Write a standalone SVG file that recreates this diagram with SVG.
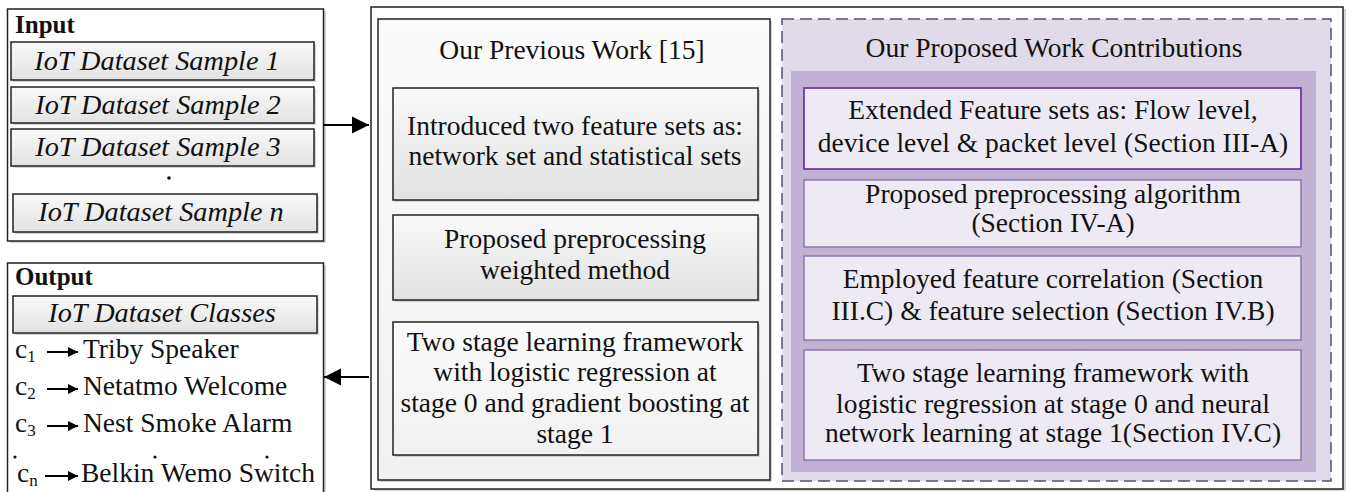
<svg xmlns="http://www.w3.org/2000/svg" width="1348" height="492" viewBox="0 0 1348 492">
<defs>
<linearGradient id="gGray" x1="0" y1="0" x2="0" y2="1">
<stop offset="0" stop-color="#f9f9f9"/>
<stop offset="1" stop-color="#e2e2e2"/>
</linearGradient>
<linearGradient id="gLight" x1="0" y1="0" x2="0" y2="1">
<stop offset="0" stop-color="#fbfbfb"/>
<stop offset="1" stop-color="#f1f1f1"/>
</linearGradient>
<marker id="ah" viewBox="0 0 10 10" refX="10" refY="5" markerWidth="12" markerHeight="10" markerUnits="userSpaceOnUse" orient="auto">
<path d="M0,0 L10,5 L0,10 z" fill="#000"/>
</marker>
<marker id="ahBig" viewBox="0 0 10 10" refX="10" refY="5" markerWidth="17" markerHeight="19" markerUnits="userSpaceOnUse" orient="auto">
<path d="M0,0 L10,5 L0,10 z" fill="#000"/>
</marker>
</defs>
<style>
.t{font-family:"Liberation Serif","Times New Roman",serif;font-size:27.5px;fill:#111;}
.c{text-anchor:middle;}
.it{font-style:italic;font-size:28.3px;}
.hd{font-weight:bold;font-size:25px;}
.sub{font-size:17px;}
.box{stroke:#222;stroke-width:1.5;}
.shadow{fill:#bbb;opacity:0.6;}
.pbox{fill:#eeeaf3;stroke:#8a78ad;stroke-width:1.5;}
</style>
<rect width="1348" height="492" fill="#fff"/>

<g id="input">
<rect class="shadow" x="10" y="11" width="316" height="232"/>
<rect class="box" x="7.5" y="9" width="316" height="232" fill="#fff"/>
<text class="t hd" x="15" y="33">Input</text>
<rect class="shadow" x="13" y="44" width="303" height="38"/>
<rect class="box" x="11" y="42" width="303" height="38" fill="url(#gGray)"/>
<text class="t it c" x="157" y="70">IoT Dataset Sample 1</text>
<rect class="shadow" x="13" y="89" width="303" height="36"/>
<rect class="box" x="11" y="87" width="303" height="36" fill="url(#gGray)"/>
<text class="t it c" x="158" y="114">IoT Dataset Sample 2</text>
<rect class="shadow" x="13" y="131" width="303" height="37"/>
<rect class="box" x="11" y="129" width="303" height="37" fill="url(#gGray)"/>
<text class="t it c" x="158" y="156">IoT Dataset Sample 3</text>
<circle cx="169" cy="178" r="1.8" fill="#111"/>
<rect class="shadow" x="15" y="196" width="304" height="38"/>
<rect class="box" x="13" y="194" width="304" height="38" fill="url(#gGray)"/>
<text class="t it c" x="161" y="221">IoT Dataset Sample n</text>
</g>

<g id="output">
<rect class="shadow" x="10" y="265" width="316" height="240"/>
<rect class="box" x="7.5" y="263" width="316" height="240" fill="#fff"/>
<text class="t hd" x="15" y="285">Output</text>
<rect class="shadow" x="15" y="298" width="304" height="37"/>
<rect class="box" x="13" y="296" width="304" height="37" fill="url(#gGray)"/>
<text class="t it c" x="162" y="322">IoT Dataset Classes</text>
<text class="t" x="15" y="358">c<tspan class="sub" dy="4">1</tspan></text>
<line x1="47" y1="352" x2="78" y2="352" stroke="#000" stroke-width="2" marker-end="url(#ah)"/>
<text class="t" x="83" y="358">Triby Speaker</text>
<text class="t" x="15" y="395">c<tspan class="sub" dy="4">2</tspan></text>
<line x1="47" y1="389" x2="78" y2="389" stroke="#000" stroke-width="2" marker-end="url(#ah)"/>
<text class="t" x="83" y="395">Netatmo Welcome</text>
<text class="t" x="15" y="432">c<tspan class="sub" dy="4">3</tspan></text>
<line x1="47" y1="426" x2="78" y2="426" stroke="#000" stroke-width="2" marker-end="url(#ah)"/>
<text class="t" x="83" y="432">Nest Smoke Alarm</text>
<circle cx="15" cy="457" r="1.6" fill="#111"/>
<circle cx="155" cy="457" r="1.6" fill="#111"/>
<circle cx="267" cy="457" r="1.6" fill="#111"/>
<text class="t" x="17" y="482">c<tspan class="sub" dy="4">n</tspan></text>
<line x1="45" y1="476" x2="78" y2="476" stroke="#000" stroke-width="2" marker-end="url(#ah)"/>
<text class="t" x="81" y="482">Belkin Wemo Switch</text>
</g>

<g id="main">
<rect class="shadow" x="374" y="9" width="972" height="482"/>
<rect class="box" x="371" y="7" width="972" height="482" fill="#fff"/>
</g>

<g id="previous">
<rect class="shadow" x="380" y="21" width="392" height="461"/>
<rect class="box" x="378" y="19" width="392" height="461" fill="url(#gLight)"/>
<text class="t c" x="572" y="59">Our Previous Work [15]</text>
<rect class="shadow" x="395" y="90" width="365" height="112"/>
<rect class="box" x="393" y="88" width="365" height="112" fill="url(#gGray)"/>
<text class="t c" x="575" y="135">Introduced two feature sets as:</text>
<text class="t c" x="575" y="165">network set and statistical sets</text>
<rect class="shadow" x="395" y="217" width="365" height="85"/>
<rect class="box" x="393" y="215" width="365" height="85" fill="url(#gGray)"/>
<text class="t c" x="575" y="248">Proposed preprocessing</text>
<text class="t c" x="575" y="279">weighted method</text>
<rect class="shadow" x="395" y="324" width="365" height="133"/>
<rect class="box" x="393" y="322" width="365" height="133" fill="url(#gLight)"/>
<text class="t c" x="575" y="351">Two stage learning framework</text>
<text class="t c" x="575" y="381">with logistic regression at</text>
<text class="t c" x="575" y="412">stage 0 and gradient boosting at</text>
<text class="t c" x="575" y="443">stage 1</text>
</g>

<g id="proposed">
<rect x="782" y="19" width="549" height="462" fill="#e1dae9" stroke="#5c4a78" stroke-width="1.5" stroke-dasharray="12,6"/>
<text class="t c" x="1054" y="57">Our Proposed Work Contributions</text>
<rect x="791" y="71" width="525" height="401" fill="#c1b2d4"/>
<rect x="804" y="88" width="497" height="81" fill="#eeeaf3" stroke="#7338a8" stroke-width="1.8"/>
<text class="t c" x="1053" y="119">Extended Feature sets as: Flow level,</text>
<text class="t c" x="1053" y="152">device level &amp; packet level (Section III-A)</text>
<rect class="pbox" x="804" y="180" width="497" height="67"/>
<text class="t c" x="1053" y="203">Proposed preprocessing algorithm</text>
<text class="t c" x="1053" y="232">(Section IV-A)</text>
<rect class="pbox" x="804" y="256" width="497" height="84"/>
<text class="t c" x="1053" y="288">Employed feature correlation (Section</text>
<text class="t c" x="1053" y="320">III.C) &amp; feature selection (Section IV.B)</text>
<rect class="pbox" x="804" y="350" width="497" height="110"/>
<text class="t c" x="1053" y="382">Two stage learning framework with</text>
<text class="t c" x="1053" y="413">logistic regression at stage 0 and neural</text>
<text class="t c" x="1053" y="442">network learning at stage 1(Section IV.C)</text>
</g>

<g id="connectors">
<line x1="323" y1="125" x2="369" y2="125" stroke="#000" stroke-width="2" marker-end="url(#ahBig)"/>
<line x1="369" y1="377" x2="324" y2="377" stroke="#000" stroke-width="2" marker-end="url(#ahBig)"/>
</g>
</svg>
